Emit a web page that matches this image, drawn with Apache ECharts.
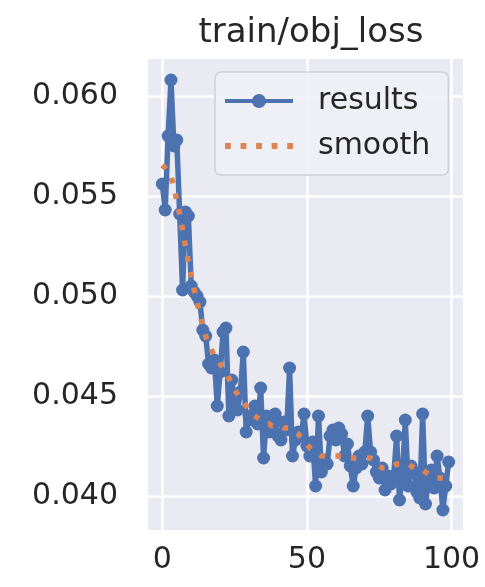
<!DOCTYPE html>
<html>
<head>
<meta charset="utf-8">
<script src="https://cdn.jsdelivr.net/npm/echarts@6/dist/echarts.min.js"></script>
<style>
html,body{margin:0;padding:0;background:#ffffff;}
#chart{width:485px;height:587px;}
</style>
</head>
<body>
<div id="chart"></div>
<script>
const titleText = 'train/obj_loss';
const epochs = Array.from({length: 100}, (_, i) => i);
const results = [
  0.0556, 0.0543, 0.0580, 0.0608, 0.0575, 0.0578, 0.0541, 0.0503, 0.0542, 0.0540,
  0.0505, 0.0502, 0.0500, 0.0497, 0.0483, 0.0480, 0.0466, 0.0464, 0.0468, 0.0445,
  0.0462, 0.0482, 0.0484, 0.0440, 0.0458, 0.0447, 0.0443, 0.0452, 0.0472, 0.0432,
  0.0440, 0.0438, 0.0445, 0.0436, 0.0454, 0.0419, 0.0440, 0.0432, 0.0436, 0.0441,
  0.0430, 0.0428, 0.0437, 0.0433, 0.0464, 0.0420, 0.0428, 0.0432, 0.0430, 0.0441,
  0.0425, 0.0420, 0.0427, 0.0405, 0.0440, 0.0412, 0.0418, 0.0416, 0.0430, 0.0433,
  0.0428, 0.0434, 0.0431, 0.0420, 0.0426, 0.0415, 0.0405, 0.0414, 0.0420, 0.0416,
  0.0422, 0.0440, 0.0422, 0.0418, 0.0412, 0.0409, 0.0414, 0.0403, 0.0410, 0.0406,
  0.0410, 0.0430, 0.0398, 0.0410, 0.0438, 0.0405, 0.0415, 0.0412, 0.0402, 0.0399,
  0.0441, 0.0396, 0.0408, 0.0413, 0.0404, 0.0420, 0.0409, 0.0393, 0.0405, 0.0417
];
const smooth = [
  0.05655, 0.0564, 0.0562, 0.0560, 0.0554, 0.0548, 0.0541, 0.0533, 0.0525, 0.0517,
  0.0510, 0.0503, 0.0497, 0.0491, 0.0485, 0.0480, 0.0476, 0.0473, 0.0470, 0.0468,
  0.0466, 0.0464, 0.0462, 0.0459, 0.0456, 0.0453, 0.0451, 0.0449, 0.0447, 0.0445,
  0.0443, 0.0441, 0.0440, 0.0439, 0.0438, 0.0437, 0.0436, 0.0436, 0.0435, 0.0435,
  0.0435, 0.0435, 0.0434, 0.0434, 0.0434, 0.0433, 0.0432, 0.0431, 0.0429, 0.0427,
  0.0426, 0.0424, 0.0423, 0.0422, 0.0421, 0.0420, 0.0420, 0.0420, 0.0420, 0.0420,
  0.0420, 0.0420, 0.0420, 0.0420, 0.0419, 0.0419, 0.0419, 0.0419, 0.0419, 0.0419,
  0.0419, 0.0419, 0.0419, 0.0418, 0.0416, 0.0415, 0.0414, 0.0414, 0.0414, 0.0415,
  0.0415, 0.0416, 0.0416, 0.0416, 0.0416, 0.0416, 0.0415, 0.0414, 0.0413, 0.0413,
  0.0413, 0.0412, 0.0411, 0.0410, 0.0410, 0.0409, 0.0409, 0.0409, 0.0409, 0.0409
];
const xTicks = [0, 50, 100];
const yTicks = [0.040, 0.045, 0.050, 0.055, 0.060];

// legend glyphs: line with a round marker, and a dotted line
const resultsIcon = 'path://M0,5 H28 V9 H0 Z M41,7 A7,7 0 1 1 27,7 A7,7 0 1 1 41,7 Z M40,5 H68 V9 H40 Z';
const smoothIcon = 'path://M0,0 h5.8 v5.8 h-5.8 Z M15.55,0 h5.8 v5.8 h-5.8 Z M31.1,0 h5.8 v5.8 h-5.8 Z M46.65,0 h5.8 v5.8 h-5.8 Z M62.2,0 h5.8 v5.8 h-5.8 Z';

const chart = echarts.init(document.getElementById('chart'), null, {renderer: 'canvas'});
const textColor = '#262626';
const font = 'DejaVu Sans';
chart.setOption({
  animation: false,
  backgroundColor: '#ffffff',
  title: {
    text: titleText,
    left: 306, textAlign: 'center', top: 11,
    textStyle: {fontFamily: font, fontSize: 34, fontWeight: 'normal', color: textColor}
  },
  grid: {left: 148, right: 22, top: 59, bottom: 57, show: true, backgroundColor: '#eaeaf2', borderWidth: 0},
  legend: {
    orient: 'vertical', left: 215, top: 72,
    padding: [14, 18, 14, 10], itemGap: 15,
    itemWidth: 68, itemHeight: 30,
    backgroundColor: 'rgba(240,240,246,0.9)', borderColor: '#cfcfd4', borderWidth: 1.5, borderRadius: 6,
    textStyle: {fontFamily: font, fontSize: 30, color: textColor, padding: [0, 0, 0, 20]},
    data: [
      {name: 'results', icon: resultsIcon, itemStyle: {color: '#4c72b0'}},
      {name: 'smooth', icon: smoothIcon, itemStyle: {color: '#dd8452'}}
    ]
  },
  xAxis: {
    type: 'value', min: -4.95, max: 103.95,
    axisLine: {show: false}, axisTick: {show: false, customValues: xTicks},
    axisLabel: {customValues: xTicks, fontFamily: font, fontSize: 30, color: textColor, margin: 15},
    splitLine: {show: true, lineStyle: {color: '#ffffff', width: 2.5}}
  },
  yAxis: {
    type: 'value', min: 0.0383, max: 0.06185,
    axisLine: {show: false}, axisTick: {show: false, customValues: yTicks},
    axisLabel: {customValues: yTicks, fontFamily: font, fontSize: 30, color: textColor, margin: 30,
      formatter: v => v.toFixed(3)},
    splitLine: {show: true, lineStyle: {color: '#ffffff', width: 2.5}}
  },
  series: [
    {
      name: 'results', type: 'line', data: epochs.map((e, i) => [e, results[i]]),
      symbol: 'circle', symbolSize: 13, showAllSymbol: true,
      itemStyle: {color: '#4c72b0'}, lineStyle: {color: '#4c72b0', width: 5.5}, z: 2
    },
    {
      name: 'smooth', type: 'line', data: epochs.map((e, i) => [e, smooth[i]]),
      symbol: 'none', itemStyle: {color: '#dd8452'},
      lineStyle: {color: '#dd8452', width: 5.5, type: [5.5, 10.5]}, z: 3
    }
  ]
});
</script>
</body>
</html>
